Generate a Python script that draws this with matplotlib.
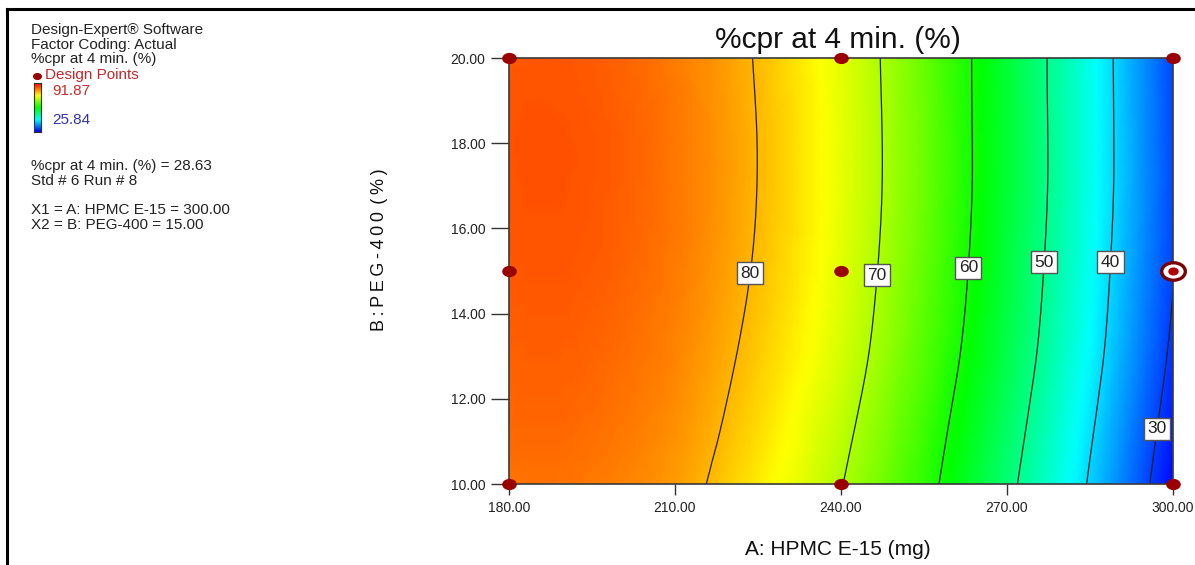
import numpy as np
import matplotlib
matplotlib.use('Agg')
import matplotlib.pyplot as plt
import matplotlib.tri as mtri
from matplotlib.colors import LinearSegmentedColormap, Normalize
from matplotlib.path import Path
from matplotlib.markers import MarkerStyle
from matplotlib.transforms import Affine2D
from matplotlib.lines import Line2D

plt.rcParams['font.family'] = ['Liberation Sans', 'DejaVu Sans']

# ---- data ----
hpmc = [180, 190, 200, 210, 220, 230, 240, 250, 260, 270, 280, 290, 300]
peg = [10.0, 12.5, 15.0, 17.5, 20.0]
cpr_peg10 = [84.3, 84.3, 83.4, 81.7, 78.4, 74.6, 70.2, 64.7, 58.5, 51.4, 43.7, 35.1, 26.3]
cpr_peg12_5 = [85.4, 85.5, 84.6, 83.0, 80.1, 76.5, 72.2, 66.8, 60.6, 53.6, 45.9, 37.4, 28.6]
cpr_peg15 = [86.1, 86.2, 85.4, 83.8, 81.2, 77.7, 73.4, 68.1, 62.0, 55.0, 47.3, 38.8, 30.2]
cpr_peg17_5 = [86.4, 86.5, 85.7, 84.1, 81.6, 78.1, 73.8, 68.6, 62.5, 55.6, 47.9, 39.4, 30.7]
cpr_peg20 = [86.1, 86.2, 85.4, 83.8, 81.3, 77.8, 73.6, 68.4, 62.4, 55.5, 47.8, 39.3, 30.6]

design_hpmc = [180, 180, 180, 240, 240, 240, 300, 300, 300]
design_peg = [10, 15, 20, 10, 15, 20, 10, 15, 20]
selected_point = (300, 15)

contour_levels = [30, 40, 50, 60, 70, 80]
label_positions = [(297.1, 11.3), (289.3, 15.2), (277.0, 15.2),
                   (263.3, 15.07), (246.5, 14.9), (223.7, 14.95)]
x_ticks = [180, 210, 240, 270, 300]
y_ticks = [10, 12, 14, 16, 18, 20]
resp_max, resp_min = 91.87, 25.84

info_lines = ["Design-Expert\u00ae Software", "Factor Coding: Actual", "%cpr at 4 min. (%)"]
point_lines = ["%cpr at 4 min. (%) = 28.63", "Std # 6 Run # 8"]
factor_lines = ["X1 = A: HPMC E-15 = 300.00", "X2 = B: PEG-400 = 15.00"]

# ---- figure ----
W, H = 1195, 565
fig = plt.figure(figsize=(W / 100, H / 100), dpi=100)


def fx(x):
    return x / W


def fy(y):
    return 1 - y / H


cmap = LinearSegmentedColormap.from_list(
    'de', ['#0000ff', '#00ffff', '#00ff00', '#ffff00', '#ff0000'])
norm = Normalize(vmin=resp_min, vmax=resp_max)

ax = fig.add_axes([fx(509), fy(484), (1173 - 509) / W, (484 - 58) / H])
X, Y = np.meshgrid(hpmc, peg)
Z = np.array([cpr_peg10, cpr_peg12_5, cpr_peg15, cpr_peg17_5, cpr_peg20])

# smooth rendering of the gridded surface (triangulate in normalised units)
x0, x1 = min(hpmc), max(hpmc)
y0, y1 = min(peg), max(peg)
U = (X.ravel() - x0) / (x1 - x0)
V = (Y.ravel() - y0) / (y1 - y0)
tri_n = mtri.Triangulation(U, V)
refiner = mtri.UniformTriRefiner(tri_n)
tri_r, z_r = refiner.refine_field(Z.ravel(), subdiv=3)
tri_d = mtri.Triangulation(x0 + tri_r.x * (x1 - x0), y0 + tri_r.y * (y1 - y0),
                           tri_r.triangles)

ax.tripcolor(tri_d, z_r, shading='gouraud', cmap=cmap, norm=norm)
cs = ax.tricontour(tri_d, z_r, levels=contour_levels, colors='#202020', linewidths=0.9)
labels = ax.clabel(cs, inline=False, fmt='%d', manual=label_positions, fontsize=12.5)
for t in labels:
    t.set_rotation(0)
    t.set_color('#222222')
    t.set_bbox(dict(boxstyle='square,pad=0.2', fc='white', ec='#555555', lw=1.0))

ax.set_xlim(180, 300)
ax.set_ylim(10, 20)
ax.set_xticks(x_ticks)
ax.set_yticks(y_ticks)
ax.set_xticklabels([f"{v:.2f}" for v in x_ticks])
ax.set_yticklabels([f"{v:.2f}" for v in y_ticks])
ax.tick_params(axis='y', length=13, width=1.0, color='#333333', pad=4,
               labelsize=10, labelcolor='#222222')
ax.tick_params(axis='x', length=8, width=1.0, color='#333333', pad=4,
               labelsize=10, labelcolor='#222222')
for s in ax.spines.values():
    s.set_color('#3a3a3a')
    s.set_linewidth(1.2)

# design points (drawn slightly elliptical as in the reference)
ell = Path.unit_circle().transformed(Affine2D().scale(1.35, 1.0))
mk = MarkerStyle(ell)
ax.plot(design_hpmc, design_peg, linestyle='none', marker=mk, ms=9.5,
        color='#9a0000', clip_on=False, zorder=6)
ax.plot([selected_point[0]], [selected_point[1]], linestyle='none', marker=mk,
        ms=17, mfc='white', mec='#7a0000', mew=2.4, clip_on=False, zorder=7)
ax.plot([selected_point[0]], [selected_point[1]], linestyle='none', marker=mk,
        ms=6.5, color='#b00000', clip_on=False, zorder=8)

# titles
fig.text(fx(838), fy(48.5), "%cpr at 4 min. (%)", ha='center', va='baseline',
         fontsize=21.5, color='#111111')
fig.text(fx(838), fy(555), "A: HPMC E-15 (mg)", ha='center', va='baseline',
         fontsize=15, color='#111111')
fig.text(fx(380), fy(250), "B\u2009:\u2009P\u2009E\u2009G\u2009-\u20094\u20090\u20090\u2009\u2009(\u2009%\u2009)",
         ha='center', va='center', rotation=90, fontsize=13, color='#111111')

# left information block
fs = 11
for i, line in enumerate(info_lines):
    fig.text(fx(31), fy(34 + 14.6 * i), line, ha='left', va='baseline',
             fontsize=fs, color='#222222')
fig.add_artist(Line2D([fx(37)], [fy(75.5)], marker=mk, ms=5.5, color='#9a0000',
                      linestyle='none', transform=fig.transFigure))
fig.text(fx(45), fy(79.5), "Design Points", ha='left', va='baseline',
         fontsize=fs, color='#c0282d')
fig.text(fx(52), fy(94.5), f"{resp_max:.2f}", ha='left', va='baseline',
         fontsize=fs, color='#cc2a2a')
fig.text(fx(52), fy(124.5), f"{resp_min:.2f}", ha='left', va='baseline',
         fontsize=fs, color='#3333aa')
cax = fig.add_axes([fx(34), fy(132), 7 / W, 49 / H])
grad = np.linspace(resp_max, resp_min, 100).reshape(-1, 1)
cax.imshow(grad, aspect='auto', cmap=cmap, norm=norm)
cax.set_xticks([])
cax.set_yticks([])
for s in cax.spines.values():
    s.set_color('#333333')
    s.set_linewidth(0.8)

for i, line in enumerate(point_lines):
    fig.text(fx(31), fy(170 + 14.6 * i), line, ha='left', va='baseline',
             fontsize=fs, color='#222222')
for i, line in enumerate(factor_lines):
    fig.text(fx(31), fy(214 + 15.3 * i), line, ha='left', va='baseline',
             fontsize=fs, color='#222222')

# outer frame (top and left visible)
fig.add_artist(Line2D([fx(7), fx(1195)], [fy(9), fy(9)], color='black', lw=2.2,
                      transform=fig.transFigure))
fig.add_artist(Line2D([fx(7), fx(7)], [fy(9), fy(565)], color='black', lw=2.2,
                      transform=fig.transFigure))

fig.savefig('out.png', dpi=100)
